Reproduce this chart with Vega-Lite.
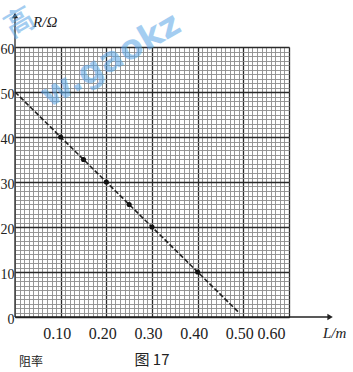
{
  "$schema": "https://vega.github.io/schema/vega-lite/v6.json",
  "width": 274,
  "height": 270,
  "autosize": {"type": "none"},
  "padding": {"left": 15, "top": 47, "right": 64, "bottom": 55},
  "background": "white",
  "config": {"view": {"stroke": null}, "font": "Liberation Serif"},
  "datasets": {
    "pts": [
      {"L": 0.10, "R": 40},
      {"L": 0.15, "R": 35},
      {"L": 0.20, "R": 30},
      {"L": 0.25, "R": 25},
      {"L": 0.30, "R": 20},
      {"L": 0.40, "R": 10}
    ],
    "fit": [{"L": 0, "R": 50}, {"L": 0.49, "R": 1}],
    "axislines": [
      {"L0": 0, "R0": 0, "L1": 0, "R1": 67},
      {"L0": 0, "R0": 0, "L1": 0.69, "R1": 0}
    ],
    "arrows": [
      {"L": 0, "R": 67, "shape": "triangle-up"},
      {"L": 0.69, "R": 0, "shape": "triangle-right"}
    ],
    "titles": [
      {"L": 0.066, "R": 65.5, "text": "R/Ω"},
      {"L": 0.70, "R": -3.6, "text": "L/m"}
    ],
    "captions": [
      {"L": 0.30, "R": -9.6, "text": "图 17", "size": 15},
      {"L": 0.035, "R": -9.9, "text": "阻率", "size": 12}
    ],
    "marks": [
      {"L": 0.21, "R": 57.0, "text": "w.gaokz", "size": 34},
      {"L": 0.012, "R": 65.3, "text": "高", "size": 28}
    ]
  },
  "layer": [
    {
      "data": {"name": "pts"},
      "mark": {"type": "point", "opacity": 0},
      "encoding": {
        "x": {
          "field": "L", "type": "quantitative",
          "scale": {"domain": [0, 0.6], "nice": false, "zero": false},
          "axis": {"orient": "bottom", "tickCount": 60, "grid": true, "gridColor": "#8c8c8c", "gridWidth": 0.9, "labels": false, "ticks": false, "domain": false, "title": null}
        },
        "y": {
          "field": "R", "type": "quantitative",
          "scale": {"domain": [0, 60], "nice": false, "zero": false},
          "axis": {"orient": "left", "tickCount": 60, "grid": true, "gridColor": "#8c8c8c", "gridWidth": 0.9, "labels": false, "ticks": false, "domain": false, "title": null}
        }
      }
    },
    {
      "data": {"name": "fit"},
      "mark": {"type": "line", "color": "#222", "strokeWidth": 1.6, "strokeDash": [5, 2]},
      "encoding": {
        "x": {
          "field": "L", "type": "quantitative",
          "axis": {"orient": "bottom", "values": [0.1, 0.2, 0.3, 0.4, 0.5, 0.6], "format": ".2f", "grid": true, "gridColor": "#2a2a2a", "gridWidth": 1.3, "ticks": false, "domain": false, "title": null, "labelFont": "Liberation Serif", "labelFontSize": 16, "labelColor": "#222", "labelPadding": 8, "labelOffset": -4}
        },
        "y": {
          "field": "R", "type": "quantitative",
          "axis": {"orient": "left", "values": [0, 10, 20, 30, 40, 50, 60], "grid": true, "gridColor": "#2a2a2a", "gridWidth": 1.3, "ticks": false, "domain": false, "title": null, "labelFont": "Liberation Serif", "labelFontSize": 14, "labelColor": "#222", "labelPadding": 1, "labelOffset": 2, "labelBaseline": "middle"}
        }
      }
    },
    {
      "data": {"name": "pts"},
      "mark": {"type": "circle", "color": "#111", "size": 26, "opacity": 1},
      "encoding": {
        "x": {"field": "L", "type": "quantitative", "axis": null},
        "y": {"field": "R", "type": "quantitative", "axis": null}
      }
    },
    {
      "data": {"name": "axislines"},
      "mark": {"type": "rule", "color": "#222", "strokeWidth": 1.3},
      "encoding": {
        "x": {"field": "L0", "type": "quantitative", "axis": null},
        "y": {"field": "R0", "type": "quantitative", "axis": null},
        "x2": {"field": "L1"},
        "y2": {"field": "R1"}
      }
    },
    {
      "data": {"name": "arrows"},
      "mark": {"type": "point", "filled": true, "color": "#222", "size": 40, "opacity": 1},
      "encoding": {
        "x": {"field": "L", "type": "quantitative", "axis": null},
        "y": {"field": "R", "type": "quantitative", "axis": null},
        "shape": {"field": "shape", "type": "nominal", "scale": null}
      }
    },
    {
      "data": {"name": "titles"},
      "mark": {"type": "text", "font": "Liberation Serif", "fontSize": 15, "fontStyle": "italic", "color": "#222"},
      "encoding": {
        "x": {"field": "L", "type": "quantitative", "axis": null},
        "y": {"field": "R", "type": "quantitative", "axis": null},
        "text": {"field": "text"}
      }
    },
    {
      "data": {"name": "captions"},
      "mark": {"type": "text", "font": "Noto Sans CJK SC", "color": "#222"},
      "encoding": {
        "x": {"field": "L", "type": "quantitative", "axis": null},
        "y": {"field": "R", "type": "quantitative", "axis": null},
        "size": {"field": "size", "type": "quantitative", "scale": null},
        "text": {"field": "text"}
      }
    },
    {
      "data": {"name": "marks"},
      "mark": {"type": "text", "font": "DejaVu Sans", "fontWeight": "bold", "color": "#5aa6e6", "opacity": 0.55, "angle": 330},
      "encoding": {
        "x": {"field": "L", "type": "quantitative", "axis": null},
        "y": {"field": "R", "type": "quantitative", "axis": null},
        "size": {"field": "size", "type": "quantitative", "scale": null},
        "text": {"field": "text"}
      }
    }
  ],
  "resolve": {"axis": {"x": "independent", "y": "independent"}}
}
